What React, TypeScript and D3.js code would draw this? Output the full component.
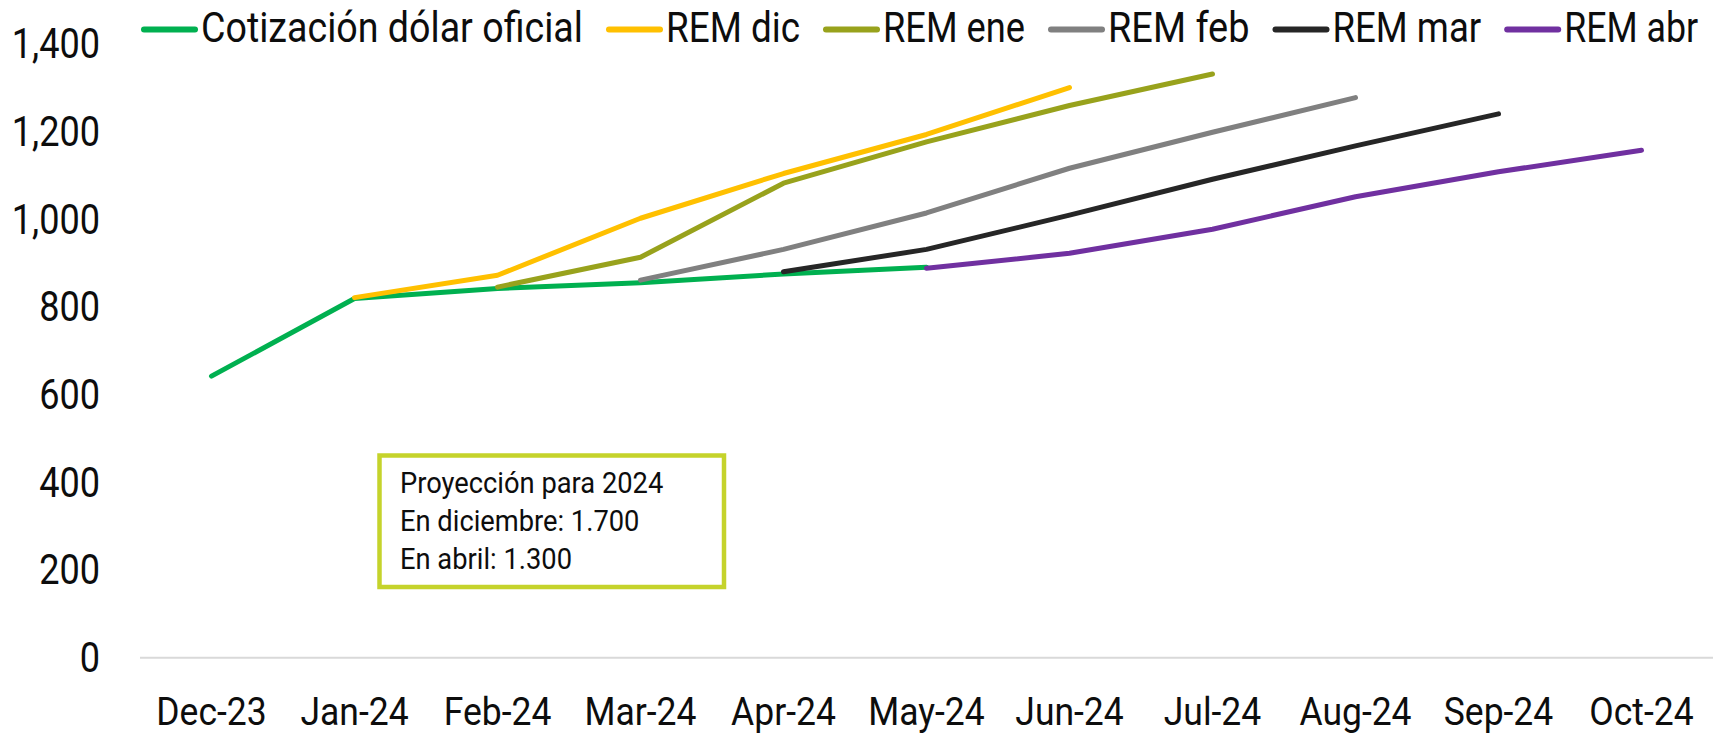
import React, { useRef, useEffect } from 'react';
import * as d3 from 'd3';

// Categories (x axis)
const months = ['Dec-23', 'Jan-24', 'Feb-24', 'Mar-24', 'Apr-24', 'May-24', 'Jun-24', 'Jul-24', 'Aug-24', 'Sep-24', 'Oct-24'];

// Series values, aligned with months (null = no value)
const cotizacion = [642, 819, 842, 855, 875, 890, null, null, null, null, null];
const remDic = [null, 821, 872, 1002, 1104, 1193, 1300, null, null, null, null];
const remEne = [null, null, 845, 913, 1082, 1176, 1259, 1331, null, null, null];
const remFeb = [null, null, null, 861, 931, 1014, 1116, 1198, 1277, null, null];
const remMar = [null, null, null, null, 880, 931, 1009, 1091, 1167, 1240, null];
const remAbr = [null, null, null, null, null, 888, 922, 977, 1051, 1108, 1157];

const yTicks = [0, 200, 400, 600, 800, 1000, 1200, 1400];

const noteLines = ['Proyección para 2024', 'En diciembre: 1.700', 'En abril: 1.300'];

type Series = { name: string; color: string; values: (number | null)[] };

const series: Series[] = [
    { name: 'Cotización dólar oficial', color: '#00B050', values: cotizacion },
    { name: 'REM dic', color: '#FFC000', values: remDic },
    { name: 'REM ene', color: '#98A21C', values: remEne },
    { name: 'REM feb', color: '#808080', values: remFeb },
    { name: 'REM mar', color: '#262626', values: remMar },
    { name: 'REM abr', color: '#7030A0', values: remAbr },
];

// rendered width of each legend label (the original uses a condensed face)
const legendWidths = [382, 134, 142, 141.5, 148.7, 134];

const FONT = 'Roboto, "Noto Sans", sans-serif';

const App = () => {
    const svgRef = useRef<SVGSVGElement>(null);

    useEffect(() => {
        const width = 1713;
        const height = 734;

        const svg = d3.select(svgRef.current)
            .attr('width', width)
            .attr('height', height)
            .attr('viewBox', `0 0 ${width} ${height}`);

        svg.selectAll('*').remove();

        // Scales
        const x = d3.scaleBand<string>()
            .domain(months)
            .range([140, 1713]);
        const cx = (m: string) => (x(m) as number) + x.bandwidth() / 2;

        const y = d3.scaleLinear()
            .domain([0, 1400])
            .range([657.7, 43.7]);

        // text squeezed horizontally by sx to mimic a condensed face
        const text = (g: any, tx: number, ty: number, str: string, size: number, anchor: string, sx: number) => {
            const holder = g.append('g')
                .attr('transform', `translate(${tx},${ty}) scale(${sx},1)`);
            holder.append('text')
                .attr('font-family', FONT)
                .attr('font-size', size)
                .attr('fill', '#0d0d0d')
                .attr('text-anchor', anchor)
                .text(str);
            return holder;
        };

        // Baseline gridline at zero
        svg.append('line')
            .attr('x1', x.range()[0])
            .attr('x2', x.range()[1])
            .attr('y1', y(0))
            .attr('y2', y(0))
            .attr('stroke', '#D9D9D9')
            .attr('stroke-width', 2);

        // Y axis labels
        const yAxis = svg.append('g');
        yTicks.forEach(t => text(yAxis, 100, y(t) + 14.5, d3.format(',')(t), 43, 'end', 0.84));

        // X axis labels
        const xAxis = svg.append('g');
        months.forEach(m => text(xAxis, cx(m), 725, m, 39, 'middle', 0.91));

        // Lines
        const line = d3.line<[string, number | null]>()
            .defined(d => d[1] != null)
            .x(d => cx(d[0]))
            .y(d => y(d[1] as number));

        series.forEach(s => {
            svg.append('path')
                .datum(months.map((m, i) => [m, s.values[i]] as [string, number | null]))
                .attr('fill', 'none')
                .attr('stroke', s.color)
                .attr('stroke-width', 5)
                .attr('stroke-linejoin', 'round')
                .attr('stroke-linecap', 'round')
                .attr('d', line);
        });

        // Legend, laid out left to right
        const legend = svg.append('g');
        let lx = 141;
        series.forEach((s, i) => {
            legend.append('line')
                .attr('x1', lx + 3)
                .attr('x2', lx + 54)
                .attr('y1', 29.5)
                .attr('y2', 29.5)
                .attr('stroke', s.color)
                .attr('stroke-width', 6)
                .attr('stroke-linecap', 'round');
            const holder = text(legend, lx + 60, 42, s.name, 42, 'start', 1);
            const natural = (holder.select('text').node() as SVGTextElement).getComputedTextLength();
            holder.attr('transform', `translate(${lx + 60},42) scale(${legendWidths[i] / natural},1)`);
            lx += 60 + legendWidths[i] + 23;
        });

        // Annotation box
        const note = svg.append('g');
        note.append('rect')
            .attr('x', 379.5)
            .attr('y', 455.5)
            .attr('width', 344.5)
            .attr('height', 131.5)
            .attr('fill', '#fff')
            .attr('stroke', '#C5D32B')
            .attr('stroke-width', 4.5);
        noteLines.forEach((l, i) => text(note, 400, 493.3 + i * 38, l, 30, 'start', 0.91));
    }, []);

    return (
        <svg ref={svgRef} style={{ position: 'absolute', left: 0, top: 0, display: 'block' }}></svg>
    );
};

export default App;
